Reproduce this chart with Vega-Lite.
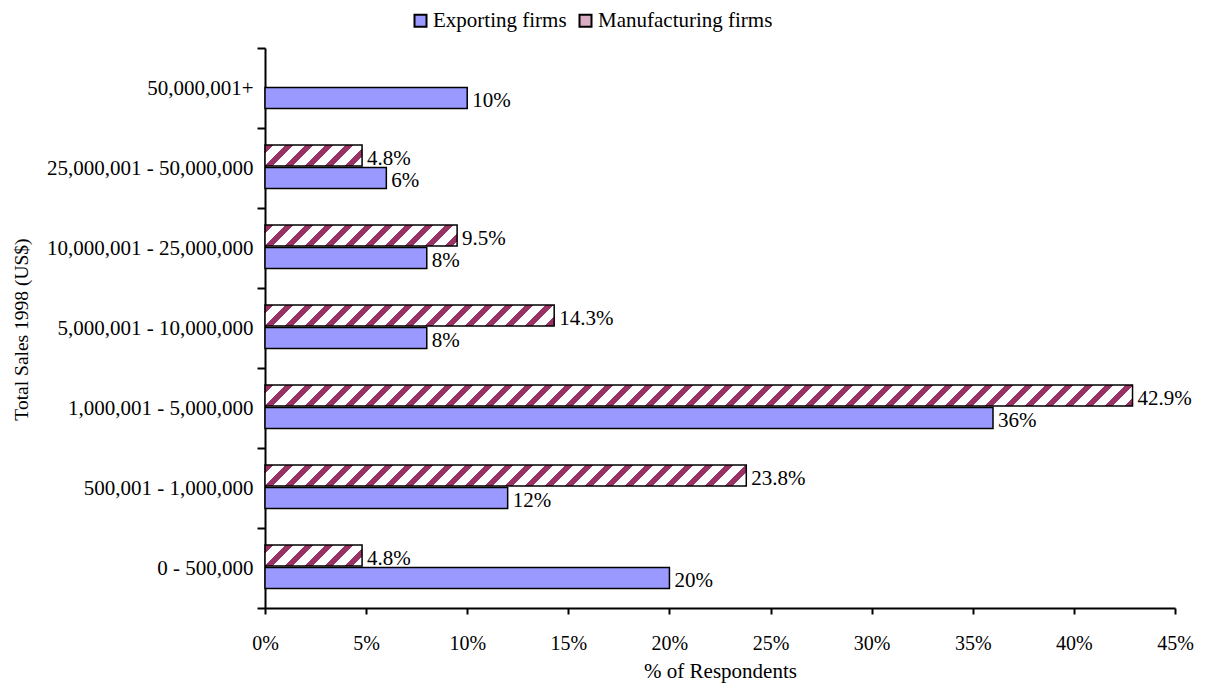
{
  "$schema": "https://vega.github.io/schema/vega-lite/v6.json",
  "width": 910,
  "height": 560,
  "autosize": "none",
  "padding": {"left": 265, "top": 48, "right": 30, "bottom": 84},
  "background": "white",
  "config": {"view": {"stroke": null}, "font": "Liberation Serif"},
  "data": {"values": [
    {"cat": "50,000,001+", "series": "Exporting firms", "v": 0.10},
    {"cat": "25,000,001 - 50,000,000", "series": "Manufacturing firms", "v": 0.048},
    {"cat": "25,000,001 - 50,000,000", "series": "Exporting firms", "v": 0.06},
    {"cat": "10,000,001 - 25,000,000", "series": "Manufacturing firms", "v": 0.095},
    {"cat": "10,000,001 - 25,000,000", "series": "Exporting firms", "v": 0.08},
    {"cat": "5,000,001 - 10,000,000", "series": "Manufacturing firms", "v": 0.143},
    {"cat": "5,000,001 - 10,000,000", "series": "Exporting firms", "v": 0.08},
    {"cat": "1,000,001 - 5,000,000", "series": "Manufacturing firms", "v": 0.429},
    {"cat": "1,000,001 - 5,000,000", "series": "Exporting firms", "v": 0.36},
    {"cat": "500,001 - 1,000,000", "series": "Manufacturing firms", "v": 0.238},
    {"cat": "500,001 - 1,000,000", "series": "Exporting firms", "v": 0.12},
    {"cat": "0 - 500,000", "series": "Manufacturing firms", "v": 0.048},
    {"cat": "0 - 500,000", "series": "Exporting firms", "v": 0.20}
  ]},
  "encoding": {
    "y": {
      "field": "cat", "type": "nominal", "title": "Total Sales 1998 (US$)",
      "scale": {"domain": ["50,000,001+", "25,000,001 - 50,000,000", "10,000,001 - 25,000,000", "5,000,001 - 10,000,000", "1,000,001 - 5,000,000", "500,001 - 1,000,000", "0 - 500,000"], "paddingInner": 0, "paddingOuter": 0},
      "axis": {"tickBand": "extent", "tickSize": 8, "tickWidth": 2, "tickColor": "black", "domainColor": "black", "domainWidth": 2, "labelFontSize": 21, "labelColor": "black", "labelPadding": 4, "labelLimit": 0, "labelFont": "Liberation Serif", "titleFont": "Liberation Serif", "titleFontSize": 19.5, "titleFontWeight": "normal", "titleColor": "black", "titleX": -234, "titleY": 281, "grid": false}
    },
    "yOffset": {
      "field": "series", "type": "nominal",
      "scale": {"domain": ["Manufacturing firms", "Exporting firms"], "paddingInner": 0.066667, "paddingOuter": 0.811111, "align": 0.466}
    },
    "x": {
      "field": "v", "type": "quantitative", "title": "% of Respondents",
      "scale": {"domain": [0, 0.45], "nice": false},
      "axis": {"values": [0, 0.05, 0.1, 0.15, 0.2, 0.25, 0.3, 0.35, 0.4, 0.45], "format": ".0%", "labelFlush": false, "labelFontSize": 20, "labelColor": "black", "labelPadding": 19, "labelFont": "Liberation Serif", "tickSize": 6, "tickWidth": 2, "tickColor": "black", "domainColor": "black", "domainWidth": 2, "titleFont": "Liberation Serif", "titleFontSize": 21, "titleFontWeight": "normal", "titleColor": "black", "titlePadding": 7, "grid": false}
    }
  },
  "layer": [
    {
      "transform": [{"filter": "datum.series == 'Exporting firms'"}],
      "mark": {"type": "bar", "stroke": "black", "strokeWidth": 1.5},
      "encoding": {
        "color": {
          "field": "series", "type": "nominal",
          "scale": {"domain": ["Exporting firms", "Manufacturing firms"], "range": ["#9999FF", "#d9aec3"]},
          "legend": {"title": null, "orient": "none", "legendX": 145, "legendY": -38, "direction": "horizontal", "symbolType": "square", "symbolSize": 144, "symbolStrokeColor": "black", "symbolStrokeWidth": 2, "symbolOpacity": 1, "labelFontSize": 21, "labelFont": "Liberation Serif", "labelColor": "black", "labelOffset": 2, "columnPadding": 8, "padding": 0, "labelLimit": 0,
            "encode": {"symbols": {"update": {"stroke": {"value": "black"}, "strokeWidth": {"value": 2}, "fill": {"signal": "datum.value === 'Manufacturing firms' ? {gradient: 'linear', x1: 0, y1: 0, x2: 1, y2: 1, stops: [{offset: 0, color: '#fff'}, {offset: 0.6, color: '#fff'}, {offset: 0.6, color: '#936'}, {offset: 1, color: '#936'}]} : '#9999FF'"}}}}}
        }
      }
    },
    {
      "transform": [{"filter": "datum.series == 'Manufacturing firms' && datum.v == 0.048"}],
      "mark": {"type": "bar", "stroke": "black", "strokeWidth": 1.5, "fill": {"gradient": "linear", "x1": 0, "y1": 0, "x2": 9.8412, "y2": 2.129, "stops": [
        {"offset":0,"color":"#936"},{"offset":0.008,"color":"#936"},{"offset":0.008,"color":"#fff"},{"offset":0.02,"color":"#fff"},
        {"offset":0.02,"color":"#936"},{"offset":0.028,"color":"#936"},{"offset":0.028,"color":"#fff"},{"offset":0.04,"color":"#fff"},
        {"offset":0.04,"color":"#936"},{"offset":0.048,"color":"#936"},{"offset":0.048,"color":"#fff"},{"offset":0.06,"color":"#fff"},
        {"offset":0.06,"color":"#936"},{"offset":0.068,"color":"#936"},{"offset":0.068,"color":"#fff"},{"offset":0.08,"color":"#fff"},
        {"offset":0.08,"color":"#936"},{"offset":0.088,"color":"#936"},{"offset":0.088,"color":"#fff"},{"offset":0.1,"color":"#fff"},
        {"offset":0.1,"color":"#936"},{"offset":0.108,"color":"#936"},{"offset":0.108,"color":"#fff"},{"offset":0.12,"color":"#fff"}
      ]}}
    },
    {
      "transform": [{"filter": "datum.series == 'Manufacturing firms' && datum.v == 0.095"}],
      "mark": {"type": "bar", "stroke": "black", "strokeWidth": 1.5, "fill": {"gradient": "linear", "x1": 0, "y1": 0, "x2": 5.1439, "y2": 0.56229, "stops": [
        {"offset":0,"color":"#936"},{"offset":0.008,"color":"#936"},{"offset":0.008,"color":"#fff"},{"offset":0.02,"color":"#fff"},
        {"offset":0.02,"color":"#936"},{"offset":0.028,"color":"#936"},{"offset":0.028,"color":"#fff"},{"offset":0.04,"color":"#fff"},
        {"offset":0.04,"color":"#936"},{"offset":0.048,"color":"#936"},{"offset":0.048,"color":"#fff"},{"offset":0.06,"color":"#fff"},
        {"offset":0.06,"color":"#936"},{"offset":0.068,"color":"#936"},{"offset":0.068,"color":"#fff"},{"offset":0.08,"color":"#fff"},
        {"offset":0.08,"color":"#936"},{"offset":0.088,"color":"#936"},{"offset":0.088,"color":"#fff"},{"offset":0.1,"color":"#fff"},
        {"offset":0.1,"color":"#936"},{"offset":0.108,"color":"#936"},{"offset":0.108,"color":"#fff"},{"offset":0.12,"color":"#fff"},
        {"offset":0.12,"color":"#936"},{"offset":0.128,"color":"#936"},{"offset":0.128,"color":"#fff"},{"offset":0.14,"color":"#fff"},
        {"offset":0.14,"color":"#936"},{"offset":0.148,"color":"#936"},{"offset":0.148,"color":"#fff"},{"offset":0.16,"color":"#fff"},
        {"offset":0.16,"color":"#936"},{"offset":0.168,"color":"#936"},{"offset":0.168,"color":"#fff"},{"offset":0.18,"color":"#fff"},
        {"offset":0.18,"color":"#936"},{"offset":0.188,"color":"#936"},{"offset":0.188,"color":"#fff"},{"offset":0.2,"color":"#fff"},
        {"offset":0.2,"color":"#936"},{"offset":0.208,"color":"#936"},{"offset":0.208,"color":"#fff"},{"offset":0.22,"color":"#fff"}
      ]}}
    },
    {
      "transform": [{"filter": "datum.series == 'Manufacturing firms' && datum.v == 0.143"}],
      "mark": {"type": "bar", "stroke": "black", "strokeWidth": 1.5, "fill": {"gradient": "linear", "x1": 0, "y1": 0, "x2": 3.4399, "y2": 0.2498, "stops": [
        {"offset":0,"color":"#936"},{"offset":0.008,"color":"#936"},{"offset":0.008,"color":"#fff"},{"offset":0.02,"color":"#fff"},
        {"offset":0.02,"color":"#936"},{"offset":0.028,"color":"#936"},{"offset":0.028,"color":"#fff"},{"offset":0.04,"color":"#fff"},
        {"offset":0.04,"color":"#936"},{"offset":0.048,"color":"#936"},{"offset":0.048,"color":"#fff"},{"offset":0.06,"color":"#fff"},
        {"offset":0.06,"color":"#936"},{"offset":0.068,"color":"#936"},{"offset":0.068,"color":"#fff"},{"offset":0.08,"color":"#fff"},
        {"offset":0.08,"color":"#936"},{"offset":0.088,"color":"#936"},{"offset":0.088,"color":"#fff"},{"offset":0.1,"color":"#fff"},
        {"offset":0.1,"color":"#936"},{"offset":0.108,"color":"#936"},{"offset":0.108,"color":"#fff"},{"offset":0.12,"color":"#fff"},
        {"offset":0.12,"color":"#936"},{"offset":0.128,"color":"#936"},{"offset":0.128,"color":"#fff"},{"offset":0.14,"color":"#fff"},
        {"offset":0.14,"color":"#936"},{"offset":0.148,"color":"#936"},{"offset":0.148,"color":"#fff"},{"offset":0.16,"color":"#fff"},
        {"offset":0.16,"color":"#936"},{"offset":0.168,"color":"#936"},{"offset":0.168,"color":"#fff"},{"offset":0.18,"color":"#fff"},
        {"offset":0.18,"color":"#936"},{"offset":0.188,"color":"#936"},{"offset":0.188,"color":"#fff"},{"offset":0.2,"color":"#fff"},
        {"offset":0.2,"color":"#936"},{"offset":0.208,"color":"#936"},{"offset":0.208,"color":"#fff"},{"offset":0.22,"color":"#fff"},
        {"offset":0.22,"color":"#936"},{"offset":0.228,"color":"#936"},{"offset":0.228,"color":"#fff"},{"offset":0.24,"color":"#fff"},
        {"offset":0.24,"color":"#936"},{"offset":0.248,"color":"#936"},{"offset":0.248,"color":"#fff"},{"offset":0.26,"color":"#fff"},
        {"offset":0.26,"color":"#936"},{"offset":0.268,"color":"#936"},{"offset":0.268,"color":"#fff"},{"offset":0.28,"color":"#fff"},
        {"offset":0.28,"color":"#936"},{"offset":0.288,"color":"#936"},{"offset":0.288,"color":"#fff"},{"offset":0.3,"color":"#fff"},
        {"offset":0.3,"color":"#936"},{"offset":0.308,"color":"#936"},{"offset":0.308,"color":"#fff"},{"offset":0.32,"color":"#fff"}
      ]}}
    },
    {
      "transform": [{"filter": "datum.series == 'Manufacturing firms' && datum.v == 0.238"}],
      "mark": {"type": "bar", "stroke": "black", "strokeWidth": 1.5, "fill": {"gradient": "linear", "x1": 0, "y1": 0, "x2": 2.0738, "y2": 0.090486, "stops": [
        {"offset":0,"color":"#936"},{"offset":0.008,"color":"#936"},{"offset":0.008,"color":"#fff"},{"offset":0.02,"color":"#fff"},
        {"offset":0.02,"color":"#936"},{"offset":0.028,"color":"#936"},{"offset":0.028,"color":"#fff"},{"offset":0.04,"color":"#fff"},
        {"offset":0.04,"color":"#936"},{"offset":0.048,"color":"#936"},{"offset":0.048,"color":"#fff"},{"offset":0.06,"color":"#fff"},
        {"offset":0.06,"color":"#936"},{"offset":0.068,"color":"#936"},{"offset":0.068,"color":"#fff"},{"offset":0.08,"color":"#fff"},
        {"offset":0.08,"color":"#936"},{"offset":0.088,"color":"#936"},{"offset":0.088,"color":"#fff"},{"offset":0.1,"color":"#fff"},
        {"offset":0.1,"color":"#936"},{"offset":0.108,"color":"#936"},{"offset":0.108,"color":"#fff"},{"offset":0.12,"color":"#fff"},
        {"offset":0.12,"color":"#936"},{"offset":0.128,"color":"#936"},{"offset":0.128,"color":"#fff"},{"offset":0.14,"color":"#fff"},
        {"offset":0.14,"color":"#936"},{"offset":0.148,"color":"#936"},{"offset":0.148,"color":"#fff"},{"offset":0.16,"color":"#fff"},
        {"offset":0.16,"color":"#936"},{"offset":0.168,"color":"#936"},{"offset":0.168,"color":"#fff"},{"offset":0.18,"color":"#fff"},
        {"offset":0.18,"color":"#936"},{"offset":0.188,"color":"#936"},{"offset":0.188,"color":"#fff"},{"offset":0.2,"color":"#fff"},
        {"offset":0.2,"color":"#936"},{"offset":0.208,"color":"#936"},{"offset":0.208,"color":"#fff"},{"offset":0.22,"color":"#fff"},
        {"offset":0.22,"color":"#936"},{"offset":0.228,"color":"#936"},{"offset":0.228,"color":"#fff"},{"offset":0.24,"color":"#fff"},
        {"offset":0.24,"color":"#936"},{"offset":0.248,"color":"#936"},{"offset":0.248,"color":"#fff"},{"offset":0.26,"color":"#fff"},
        {"offset":0.26,"color":"#936"},{"offset":0.268,"color":"#936"},{"offset":0.268,"color":"#fff"},{"offset":0.28,"color":"#fff"},
        {"offset":0.28,"color":"#936"},{"offset":0.288,"color":"#936"},{"offset":0.288,"color":"#fff"},{"offset":0.3,"color":"#fff"},
        {"offset":0.3,"color":"#936"},{"offset":0.308,"color":"#936"},{"offset":0.308,"color":"#fff"},{"offset":0.32,"color":"#fff"},
        {"offset":0.32,"color":"#936"},{"offset":0.328,"color":"#936"},{"offset":0.328,"color":"#fff"},{"offset":0.34,"color":"#fff"},
        {"offset":0.34,"color":"#936"},{"offset":0.348,"color":"#936"},{"offset":0.348,"color":"#fff"},{"offset":0.36,"color":"#fff"},
        {"offset":0.36,"color":"#936"},{"offset":0.368,"color":"#936"},{"offset":0.368,"color":"#fff"},{"offset":0.38,"color":"#fff"},
        {"offset":0.38,"color":"#936"},{"offset":0.388,"color":"#936"},{"offset":0.388,"color":"#fff"},{"offset":0.4,"color":"#fff"},
        {"offset":0.4,"color":"#936"},{"offset":0.408,"color":"#936"},{"offset":0.408,"color":"#fff"},{"offset":0.42,"color":"#fff"},
        {"offset":0.42,"color":"#936"},{"offset":0.428,"color":"#936"},{"offset":0.428,"color":"#fff"},{"offset":0.44,"color":"#fff"},
        {"offset":0.44,"color":"#936"},{"offset":0.448,"color":"#936"},{"offset":0.448,"color":"#fff"},{"offset":0.46,"color":"#fff"},
        {"offset":0.46,"color":"#936"},{"offset":0.468,"color":"#936"},{"offset":0.468,"color":"#fff"},{"offset":0.48,"color":"#fff"},
        {"offset":0.48,"color":"#936"},{"offset":0.488,"color":"#936"},{"offset":0.488,"color":"#fff"},{"offset":0.5,"color":"#fff"},
        {"offset":0.5,"color":"#936"},{"offset":0.508,"color":"#936"},{"offset":0.508,"color":"#fff"},{"offset":0.52,"color":"#fff"}
      ]}}
    },
    {
      "transform": [{"filter": "datum.series == 'Manufacturing firms' && datum.v == 0.429"}],
      "mark": {"type": "bar", "stroke": "black", "strokeWidth": 1.5, "fill": {"gradient": "linear", "x1": 0, "y1": 0, "x2": 1.15202, "y2": 0.027887, "stops": [
        {"offset":0,"color":"#936"},{"offset":0.008,"color":"#936"},{"offset":0.008,"color":"#fff"},{"offset":0.02,"color":"#fff"},
        {"offset":0.02,"color":"#936"},{"offset":0.028,"color":"#936"},{"offset":0.028,"color":"#fff"},{"offset":0.04,"color":"#fff"},
        {"offset":0.04,"color":"#936"},{"offset":0.048,"color":"#936"},{"offset":0.048,"color":"#fff"},{"offset":0.06,"color":"#fff"},
        {"offset":0.06,"color":"#936"},{"offset":0.068,"color":"#936"},{"offset":0.068,"color":"#fff"},{"offset":0.08,"color":"#fff"},
        {"offset":0.08,"color":"#936"},{"offset":0.088,"color":"#936"},{"offset":0.088,"color":"#fff"},{"offset":0.1,"color":"#fff"},
        {"offset":0.1,"color":"#936"},{"offset":0.108,"color":"#936"},{"offset":0.108,"color":"#fff"},{"offset":0.12,"color":"#fff"},
        {"offset":0.12,"color":"#936"},{"offset":0.128,"color":"#936"},{"offset":0.128,"color":"#fff"},{"offset":0.14,"color":"#fff"},
        {"offset":0.14,"color":"#936"},{"offset":0.148,"color":"#936"},{"offset":0.148,"color":"#fff"},{"offset":0.16,"color":"#fff"},
        {"offset":0.16,"color":"#936"},{"offset":0.168,"color":"#936"},{"offset":0.168,"color":"#fff"},{"offset":0.18,"color":"#fff"},
        {"offset":0.18,"color":"#936"},{"offset":0.188,"color":"#936"},{"offset":0.188,"color":"#fff"},{"offset":0.2,"color":"#fff"},
        {"offset":0.2,"color":"#936"},{"offset":0.208,"color":"#936"},{"offset":0.208,"color":"#fff"},{"offset":0.22,"color":"#fff"},
        {"offset":0.22,"color":"#936"},{"offset":0.228,"color":"#936"},{"offset":0.228,"color":"#fff"},{"offset":0.24,"color":"#fff"},
        {"offset":0.24,"color":"#936"},{"offset":0.248,"color":"#936"},{"offset":0.248,"color":"#fff"},{"offset":0.26,"color":"#fff"},
        {"offset":0.26,"color":"#936"},{"offset":0.268,"color":"#936"},{"offset":0.268,"color":"#fff"},{"offset":0.28,"color":"#fff"},
        {"offset":0.28,"color":"#936"},{"offset":0.288,"color":"#936"},{"offset":0.288,"color":"#fff"},{"offset":0.3,"color":"#fff"},
        {"offset":0.3,"color":"#936"},{"offset":0.308,"color":"#936"},{"offset":0.308,"color":"#fff"},{"offset":0.32,"color":"#fff"},
        {"offset":0.32,"color":"#936"},{"offset":0.328,"color":"#936"},{"offset":0.328,"color":"#fff"},{"offset":0.34,"color":"#fff"},
        {"offset":0.34,"color":"#936"},{"offset":0.348,"color":"#936"},{"offset":0.348,"color":"#fff"},{"offset":0.36,"color":"#fff"},
        {"offset":0.36,"color":"#936"},{"offset":0.368,"color":"#936"},{"offset":0.368,"color":"#fff"},{"offset":0.38,"color":"#fff"},
        {"offset":0.38,"color":"#936"},{"offset":0.388,"color":"#936"},{"offset":0.388,"color":"#fff"},{"offset":0.4,"color":"#fff"},
        {"offset":0.4,"color":"#936"},{"offset":0.408,"color":"#936"},{"offset":0.408,"color":"#fff"},{"offset":0.42,"color":"#fff"},
        {"offset":0.42,"color":"#936"},{"offset":0.428,"color":"#936"},{"offset":0.428,"color":"#fff"},{"offset":0.44,"color":"#fff"},
        {"offset":0.44,"color":"#936"},{"offset":0.448,"color":"#936"},{"offset":0.448,"color":"#fff"},{"offset":0.46,"color":"#fff"},
        {"offset":0.46,"color":"#936"},{"offset":0.468,"color":"#936"},{"offset":0.468,"color":"#fff"},{"offset":0.48,"color":"#fff"},
        {"offset":0.48,"color":"#936"},{"offset":0.488,"color":"#936"},{"offset":0.488,"color":"#fff"},{"offset":0.5,"color":"#fff"},
        {"offset":0.5,"color":"#936"},{"offset":0.508,"color":"#936"},{"offset":0.508,"color":"#fff"},{"offset":0.52,"color":"#fff"},
        {"offset":0.52,"color":"#936"},{"offset":0.528,"color":"#936"},{"offset":0.528,"color":"#fff"},{"offset":0.54,"color":"#fff"},
        {"offset":0.54,"color":"#936"},{"offset":0.548,"color":"#936"},{"offset":0.548,"color":"#fff"},{"offset":0.56,"color":"#fff"},
        {"offset":0.56,"color":"#936"},{"offset":0.568,"color":"#936"},{"offset":0.568,"color":"#fff"},{"offset":0.58,"color":"#fff"},
        {"offset":0.58,"color":"#936"},{"offset":0.588,"color":"#936"},{"offset":0.588,"color":"#fff"},{"offset":0.6,"color":"#fff"},
        {"offset":0.6,"color":"#936"},{"offset":0.608,"color":"#936"},{"offset":0.608,"color":"#fff"},{"offset":0.62,"color":"#fff"},
        {"offset":0.62,"color":"#936"},{"offset":0.628,"color":"#936"},{"offset":0.628,"color":"#fff"},{"offset":0.64,"color":"#fff"},
        {"offset":0.64,"color":"#936"},{"offset":0.648,"color":"#936"},{"offset":0.648,"color":"#fff"},{"offset":0.66,"color":"#fff"},
        {"offset":0.66,"color":"#936"},{"offset":0.668,"color":"#936"},{"offset":0.668,"color":"#fff"},{"offset":0.68,"color":"#fff"},
        {"offset":0.68,"color":"#936"},{"offset":0.688,"color":"#936"},{"offset":0.688,"color":"#fff"},{"offset":0.7,"color":"#fff"},
        {"offset":0.7,"color":"#936"},{"offset":0.708,"color":"#936"},{"offset":0.708,"color":"#fff"},{"offset":0.72,"color":"#fff"},
        {"offset":0.72,"color":"#936"},{"offset":0.728,"color":"#936"},{"offset":0.728,"color":"#fff"},{"offset":0.74,"color":"#fff"},
        {"offset":0.74,"color":"#936"},{"offset":0.748,"color":"#936"},{"offset":0.748,"color":"#fff"},{"offset":0.76,"color":"#fff"},
        {"offset":0.76,"color":"#936"},{"offset":0.768,"color":"#936"},{"offset":0.768,"color":"#fff"},{"offset":0.78,"color":"#fff"},
        {"offset":0.78,"color":"#936"},{"offset":0.788,"color":"#936"},{"offset":0.788,"color":"#fff"},{"offset":0.8,"color":"#fff"},
        {"offset":0.8,"color":"#936"},{"offset":0.808,"color":"#936"},{"offset":0.808,"color":"#fff"},{"offset":0.82,"color":"#fff"},
        {"offset":0.82,"color":"#936"},{"offset":0.828,"color":"#936"},{"offset":0.828,"color":"#fff"},{"offset":0.84,"color":"#fff"},
        {"offset":0.84,"color":"#936"},{"offset":0.848,"color":"#936"},{"offset":0.848,"color":"#fff"},{"offset":0.86,"color":"#fff"},
        {"offset":0.86,"color":"#936"},{"offset":0.868,"color":"#936"},{"offset":0.868,"color":"#fff"},{"offset":0.88,"color":"#fff"},
        {"offset":0.88,"color":"#936"},{"offset":0.888,"color":"#936"},{"offset":0.888,"color":"#fff"},{"offset":0.9,"color":"#fff"}
      ]}}
    },
    {
      "transform": [{"filter": "datum.series == 'Exporting firms'"}],
      "mark": {"type": "text", "align": "left", "baseline": "middle", "dx": 5, "dy": 3, "fontSize": 21, "font": "Liberation Serif", "fill": "black"},
      "encoding": {"text": {"field": "v", "type": "quantitative", "format": ".0%"}}
    },
    {
      "transform": [{"filter": "datum.series == 'Manufacturing firms'"}],
      "mark": {"type": "text", "align": "left", "baseline": "middle", "dx": 5, "dy": 3, "fontSize": 21, "font": "Liberation Serif", "fill": "black"},
      "encoding": {"text": {"field": "v", "type": "quantitative", "format": ".1%"}}
    }
  ]
}
